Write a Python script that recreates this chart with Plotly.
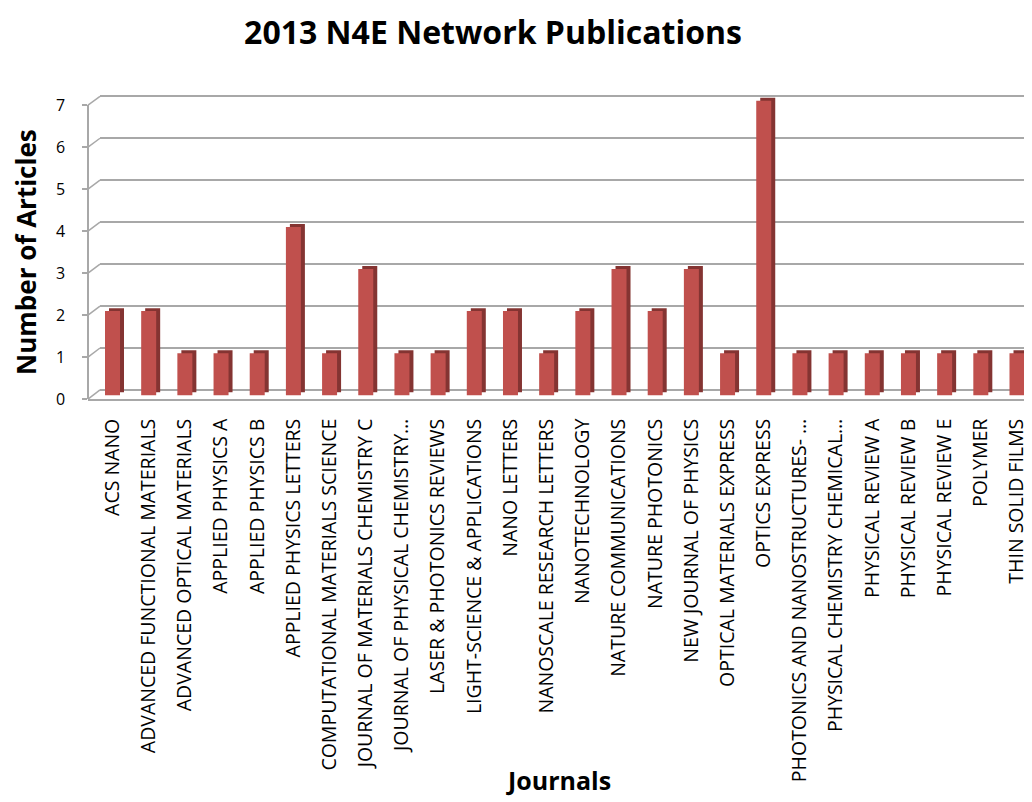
import plotly.graph_objects as go

# ---------------- data ----------------
journals = [
    "ACS NANO",
    "ADVANCED FUNCTIONAL MATERIALS",
    "ADVANCED OPTICAL MATERIALS",
    "APPLIED PHYSICS A",
    "APPLIED PHYSICS B",
    "APPLIED PHYSICS LETTERS",
    "COMPUTATIONAL MATERIALS SCIENCE",
    "JOURNAL OF MATERIALS CHEMISTRY C",
    "JOURNAL OF PHYSICAL CHEMISTRY…",
    "LASER & PHOTONICS REVIEWS",
    "LIGHT-SCIENCE & APPLICATIONS",
    "NANO LETTERS",
    "NANOSCALE RESEARCH LETTERS",
    "NANOTECHNOLOGY",
    "NATURE COMMUNICATIONS",
    "NATURE PHOTONICS",
    "NEW JOURNAL OF PHYSICS",
    "OPTICAL MATERIALS EXPRESS",
    "OPTICS EXPRESS",
    "PHOTONICS AND NANOSTRUCTURES- …",
    "PHYSICAL CHEMISTRY CHEMICAL…",
    "PHYSICAL REVIEW A",
    "PHYSICAL REVIEW B",
    "PHYSICAL REVIEW E",
    "POLYMER",
    "THIN SOLID FILMS",
]
articles = [2, 2, 1, 1, 1, 4, 1, 3, 1, 1, 2, 2, 1, 2, 3, 2, 3, 1, 7, 1, 1, 1, 1, 1, 1, 1]
y_ticks = [0, 1, 2, 3, 4, 5, 6, 7]

title_text = "2013 N4E Network Publications"
x_title = "Journals"
y_title = "Number of Articles"

# ---------------- geometry helpers (screen pixels -> paper / ranges) ----------------
SCR_W, SCR_H = 1032, 802
OFF = 8                      # default body margin of the html page
W, H = SCR_W - OFF, SCR_H - OFF
PLOT_TOP, PLOT_BOT = 80, 399
YMAX = 7


def py(p):
    return 1 - (p - OFF) / H


def px(p):
    return (p - OFF) / W


def yrange(p0, pmax, top=PLOT_TOP, bot=PLOT_BOT):
    upp = YMAX / (p0 - pmax)
    return [0 - (bot - p0) * upp, YMAX + (pmax - top) * upp], upp


n = len(journals)
X_LEFT = 88
first_c, last_c = 112.5, 1017.0
xupp = (n - 1) / (last_c - first_c)
x_range = [0 - (first_c - X_LEFT) * xupp, (n - 1) + (SCR_W - last_c) * xupp]
GRID_LEFT = 100
x_range_grid = [0 - (first_c - GRID_LEFT) * xupp, x_range[1]]

bar_range, bar_upp = yrange(395, 92)
grid_range, _ = yrange(389.5, 87.5)
LBL_TOP = 96.5
lbl_range = [0, YMAX]

bar_w = 15 * xupp
side_dx = 4 * xupp
side_dy = 3 * bar_upp

front_col = "#C0504D"
side_col = "#843432"
grid_col = "#A8A8A8"
font_family = "Open Sans, Noto Sans, DejaVu Sans, sans-serif"

fig = go.Figure()

# gridline subplot (back wall) : x / y
fig.add_trace(go.Scatter(x=[journals[0]], y=[0], mode="markers",
                         marker=dict(opacity=0), hoverinfo="skip",
                         showlegend=False, xaxis="x", yaxis="y"))

# bars : x2 / y2  (dark side/top face drawn first, front face on top)
fig.add_trace(go.Bar(x=journals, y=articles, base=side_dy,
                     width=bar_w, offset=-bar_w / 2 + side_dx,
                     marker=dict(color=side_col, line=dict(width=0)),
                     showlegend=False, hoverinfo="skip",
                     xaxis="x2", yaxis="y2"))
fig.add_trace(go.Bar(x=journals, y=articles,
                     width=bar_w, offset=-bar_w / 2,
                     marker=dict(color=front_col, line=dict(width=0)),
                     showlegend=False,
                     xaxis="x2", yaxis="y2"))

# label axis : x2 / y3
fig.add_trace(go.Scatter(x=[journals[0]], y=[0], mode="markers",
                         marker=dict(opacity=0), hoverinfo="skip",
                         showlegend=False, xaxis="x2", yaxis="y3"))

# diagonal wall edges from front ticks to back gridlines
shapes = []
for v in y_ticks:
    p_front = PLOT_BOT - v * (PLOT_BOT - LBL_TOP) / YMAX
    p_back = 389.5 - v * (389.5 - 87.5) / YMAX
    shapes.append(dict(type="line", xref="paper", yref="paper",
                       x0=px(X_LEFT), y0=py(p_front),
                       x1=px(GRID_LEFT), y1=py(p_back),
                       line=dict(color=grid_col, width=1.5)))

annotations = [
    dict(text="<b>" + x_title + "</b>", xref="paper", yref="paper",
         x=px(558), y=py(791), xanchor="center", yanchor="middle",
         showarrow=False, font=dict(size=25, family=font_family, color="black")),
]

fig.update_layout(
    width=W, height=H,
    margin=dict(l=0, r=0, t=0, b=0),
    paper_bgcolor="white",
    plot_bgcolor="rgba(0,0,0,0)",
    barmode="overlay",
    font=dict(family=font_family, color="black"),
    shapes=shapes,
    annotations=annotations,
    title=dict(text="<b>" + title_text + "</b>", x=px(493), xanchor="center",
               y=py(33), yanchor="middle",
               font=dict(size=32, family=font_family, color="black")),
    xaxis=dict(domain=[px(GRID_LEFT), 1], range=x_range_grid, anchor="y",
               type="category", categoryorder="array", categoryarray=journals,
               visible=False, fixedrange=True),
    yaxis=dict(domain=[py(PLOT_BOT), py(PLOT_TOP)], range=grid_range, anchor="x",
               showgrid=True, gridcolor=grid_col, gridwidth=1.5,
               zeroline=False, showticklabels=False, showline=False,
               tickvals=y_ticks, ticks=""),
    xaxis2=dict(domain=[px(X_LEFT), 1], range=x_range, anchor="y2",
                type="category", categoryorder="array", categoryarray=journals,
                showline=True, linecolor=grid_col, linewidth=1.5,
                showgrid=False, ticks="", tickangle=-90,
                ticklabelstandoff=10,
                tickfont=dict(size=19.5, family=font_family, color="black")),
    yaxis2=dict(domain=[py(PLOT_BOT), py(PLOT_TOP)], range=bar_range, anchor="x2",
                visible=False, showgrid=False),
    yaxis3=dict(domain=[py(PLOT_BOT), py(LBL_TOP)], range=lbl_range,
                anchor="free", position=px(X_LEFT), side="left",
                tickvals=y_ticks, ticks="outside", ticklen=5, tickcolor=grid_col,
                tickwidth=1.5, showline=True, linecolor=grid_col, linewidth=1.5,
                showgrid=False, zeroline=False, ticklabelstandoff=14,
                tickfont=dict(size=16, family=font_family, color="black"),
                title=dict(text="<b>" + y_title + "</b>", standoff=12,
                           font=dict(size=26, family=font_family, color="black"))),
)

fig.write_html("out.html")
